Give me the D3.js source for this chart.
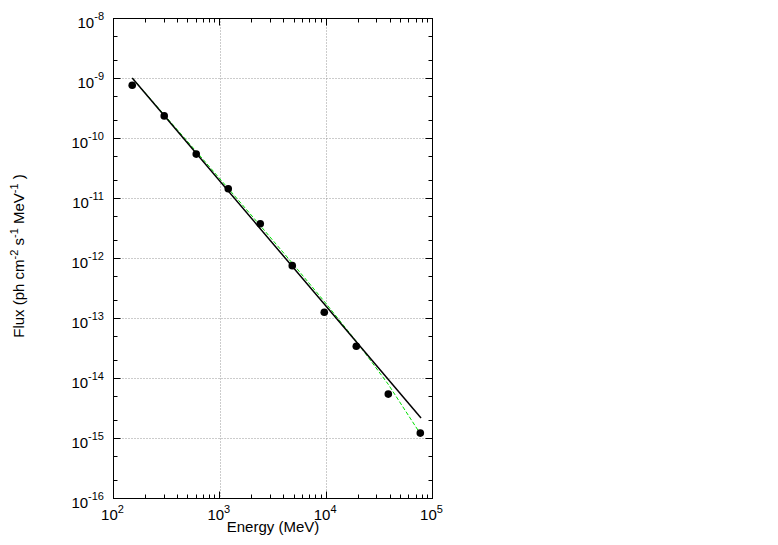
<!DOCTYPE html>
<html><head><meta charset="utf-8">
<script src="https://cdn.jsdelivr.net/npm/d3@7"></script>
<style>
html,body{margin:0;padding:0;background:#fff;}
svg{display:block;font-family:"Liberation Sans",Arial,Helvetica,sans-serif;}
</style></head>
<body><svg id="c" width="778" height="545"></svg>
<script>
// Data
const energies = [150, 300, 600, 1200, 2400, 4800, 9600, 19200, 38400, 76800];
const fluxes = [7.7e-10, 2.38e-10, 5.5e-11, 1.45e-11, 3.8e-12, 7.6e-13, 1.27e-13, 3.45e-14, 5.5e-15, 1.23e-15];
// Power-law fit (solid black line) endpoints
const fitE = [150, 78000];
const fitF = [1.02e-9, 2.2e-15];
// Curved model (green dashed line)
const modelE = [150, 300, 600, 1200, 2400, 4800, 9600, 19200, 38400, 76800];
const modelF = [1.02e-9, 2.49e-10, 6.07e-11, 1.47e-11, 3.54e-12, 8.38e-13, 1.93e-13, 4.17e-14, 7.98e-15, 1.20e-15];
// Axis ticks
const xMajor = [1e2, 1e3, 1e4, 1e5];
const xLabelExp = ["2", "3", "4", "5"];
const yMajor = [1e-16, 1e-15, 1e-14, 1e-13, 1e-12, 1e-11, 1e-10, 1e-9, 1e-8];
const yLabelExp = ["-16", "-15", "-14", "-13", "-12", "-11", "-10", "-9", "-8"];
const xTitle = "Energy (MeV)";

const svg = d3.select("#c");
const L = 113.5, R = 432.5, T = 18.5, B = 498.5;
const x = d3.scaleLog().domain([1e2, 1e5]).range([L, R]);
const y = d3.scaleLog().domain([1e-16, 1e-8]).range([B, T]);

// grid
const grid = svg.append("g").attr("stroke", "#999").attr("stroke-width", 1).attr("stroke-dasharray", "1,2");
xMajor.slice(1, -1).forEach(v => {
  const px = Math.round(x(v)) + 0.5;
  grid.append("line").attr("x1", px).attr("x2", px).attr("y1", T).attr("y2", B);
});
yMajor.slice(1, -1).forEach(v => {
  const py = Math.round(y(v) - 0.5) + 0.5;
  grid.append("line").attr("x1", L).attr("x2", R).attr("y1", py).attr("y2", py);
});

// ticks (inward, all four sides)
const ticks = svg.append("g").attr("stroke", "#000").attr("stroke-width", 1);
const xMinor = [];
for (let d = 2; d < 5; d++) for (let m = 2; m <= 9; m++) xMinor.push(m * Math.pow(10, d));
const yMinor = [];
for (let d = -16; d < -8; d++) { yMinor.push(2 * Math.pow(10, d)); yMinor.push(5 * Math.pow(10, d)); }
function xt(v, len) {
  const px = Math.round(x(v) - 0.5) + 0.5;
  ticks.append("line").attr("x1", px).attr("x2", px).attr("y1", B).attr("y2", B - len);
  ticks.append("line").attr("x1", px).attr("x2", px).attr("y1", T).attr("y2", T + len);
}
function yt(v, len) {
  const py = Math.round(y(v) - 0.5) + 0.5;
  ticks.append("line").attr("x1", L).attr("x2", L + len).attr("y1", py).attr("y2", py);
  ticks.append("line").attr("x1", R).attr("x2", R - len).attr("y1", py).attr("y2", py);
}
xMajor.forEach(v => xt(v, 7));
xMinor.forEach(v => xt(v, 4));
yMajor.forEach(v => yt(v, 7));
yMinor.forEach(v => yt(v, 4));

// frame
svg.append("rect").attr("x", L).attr("y", T).attr("width", R - L).attr("height", B - T)
  .attr("fill", "none").attr("stroke", "#000").attr("stroke-width", 1);

// tick labels
xMajor.forEach((v, i) => {
  const t = svg.append("text").attr("x", x(v) - 1).attr("y", 520).attr("text-anchor", "middle")
    .attr("font-size", 15).attr("fill", "#000");
  t.append("tspan").text("10");
  t.append("tspan").attr("dy", -7.5).attr("font-size", 11).text(xLabelExp[i]);
});
yMajor.forEach((v, i) => {
  const t = svg.append("text").attr("x", 104).attr("y", y(v) + 9).attr("text-anchor", "end")
    .attr("font-size", 15).attr("fill", "#000");
  t.append("tspan").text("10");
  t.append("tspan").attr("dy", -7.5).attr("font-size", 11).text(yLabelExp[i]);
});

// axis titles
svg.append("text").attr("x", (L + R) / 2).attr("y", 532).attr("text-anchor", "middle")
  .attr("font-size", 15).attr("fill", "#000").text(xTitle);
const yt2 = svg.append("text").attr("transform", "translate(24,256) rotate(-90)")
  .attr("text-anchor", "middle").attr("font-size", 15).attr("fill", "#000");
yt2.append("tspan").text("Flux (ph cm");
yt2.append("tspan").attr("dy", -6.5).attr("font-size", 11).text("-2");
yt2.append("tspan").attr("dy", 6.5).text("  s");
yt2.append("tspan").attr("dy", -6.5).attr("font-size", 11).text("-1");
yt2.append("tspan").attr("dy", 6.5).text("  MeV");
yt2.append("tspan").attr("dy", -6.5).attr("font-size", 11).text("-1");
yt2.append("tspan").attr("dy", 6.5).text(" )");

// green dashed model
const line = d3.line().x(d => x(d[0])).y(d => y(d[1]));
svg.append("path").datum(modelE.map((e, i) => [e, modelF[i]])).attr("d", line)
  .attr("fill", "none").attr("stroke", "#00e000").attr("stroke-width", 1).attr("stroke-dasharray", "4,2");
// black fit
svg.append("path").datum(fitE.map((e, i) => [e, fitF[i]])).attr("d", line)
  .attr("fill", "none").attr("stroke", "#000").attr("stroke-width", 1.5);
// points
svg.append("g").selectAll("circle").data(energies.map((e, i) => [e, fluxes[i]])).join("circle")
  .attr("cx", d => x(d[0])).attr("cy", d => y(d[1])).attr("r", 3.8).attr("fill", "#000");
</script></body></html>
